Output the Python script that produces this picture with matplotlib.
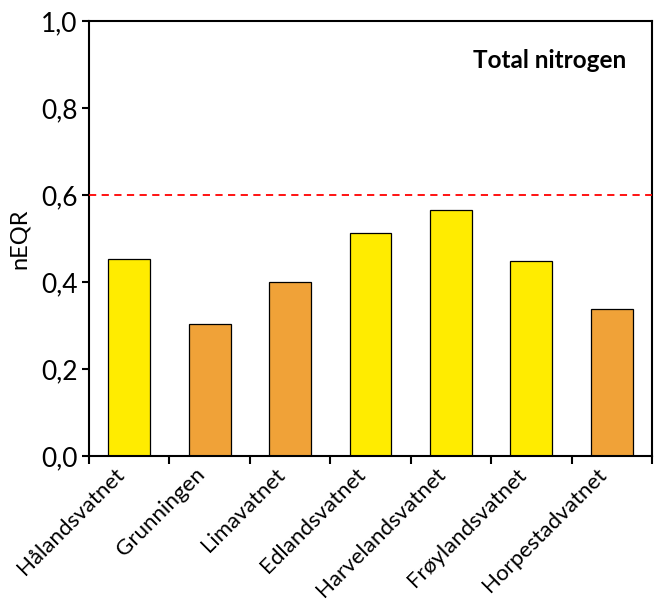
import matplotlib
matplotlib.use("Agg")
import matplotlib.pyplot as plt
from matplotlib.ticker import FuncFormatter, FixedLocator
from matplotlib.transforms import ScaledTranslation

categories = ["Hålandsvatnet", "Grunningen", "Limavatnet", "Edlandsvatnet",
              "Harvelandsvatnet", "Frøylandsvatnet", "Horpestadvatnet"]
values = [0.453, 0.304, 0.400, 0.513, 0.565, 0.449, 0.339]
classes = ["yellow", "orange", "orange", "yellow", "yellow", "yellow", "orange"]
threshold = 0.6
yticks = [0.0, 0.2, 0.4, 0.6, 0.8, 1.0]

color_map = {"yellow": "#FFEC00", "orange": "#F0A238"}

plt.rcParams['font.family'] = ['Lato', 'DejaVu Sans']

fig = plt.figure(figsize=(6.56, 6.10), dpi=100)
ax = fig.add_axes([89/656, 1-456/610, (652-89)/656, (456-21)/610])

x = list(range(len(categories)))
ax.bar(x, values, width=0.52, color=[color_map[c] for c in classes],
       edgecolor="black", linewidth=0.9, zorder=2)
ax.axhline(threshold, color="#FF0000", linestyle=(0, (4, 3)), linewidth=1.3, zorder=3)

ax.set_xlim(-0.5, len(categories) - 0.5)
ax.set_ylim(0, 1.0)
ax.set_yticks(yticks)
ax.yaxis.set_major_formatter(FuncFormatter(lambda v, p: f"{v:.1f}".replace(".", ",")))
ax.tick_params(axis="y", labelsize=19, direction="out", length=5, width=1.5, pad=3)

ax.xaxis.set_major_locator(FixedLocator([i - 0.5 for i in range(len(categories) + 1)]))
ax.set_xticklabels([])
ax.tick_params(axis="x", which="major", direction="out", length=6, width=1.5)
ax.set_xticks(x, minor=True)
ax.set_xticklabels(categories, minor=True, rotation=45, ha="right", va="center",
                   rotation_mode="anchor", fontsize=16)
ax.tick_params(axis="x", which="minor", length=0, pad=11)
shift = ScaledTranslation(-8/100, 0, fig.dpi_scale_trans)
for lbl in ax.get_xticklabels(minor=True):
    lbl.set_transform(lbl.get_transform() + shift)

for s in ax.spines.values():
    s.set_linewidth(1.5)

ax.set_ylabel("nEQR", fontsize=17, labelpad=8)
ax.text(0.955, 0.91, "Total nitrogen", transform=ax.transAxes, ha="right",
        va="center", fontsize=17.5, fontweight="bold")

fig.savefig("out.png", dpi=100)
